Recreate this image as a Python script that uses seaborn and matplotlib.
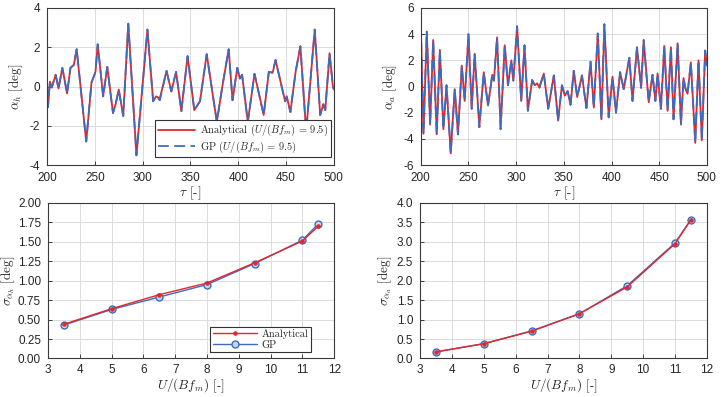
"""
plot.py - response time histories and standard deviations vs reduced velocity
"""

import numpy as np
import pandas as pd
import matplotlib
matplotlib.use('Agg')
import matplotlib.pyplot as plt
import seaborn as sns

# ---- data ----
# heave response alpha_h, U/(B f_m) = 9.5 (peaks and troughs)
tau_h = [200, 201, 203, 205, 209, 212, 216, 221, 224.5, 228, 231, 241, 246.5, 250.7,
         253, 258.7, 263, 269, 272, 275, 279.7, 285, 293.5, 305, 311, 314, 318, 325,
         330, 335, 340.5, 347, 354, 360, 367, 377.6, 383, 390, 394, 399, 401.7, 404,
         410, 417, 426.6, 432, 436, 439, 449, 450.7, 454.5, 460, 465, 471, 480, 485.7,
         489, 491, 495.5, 499, 500]
alpha_h = [0.0, -1.05, 0.25, -0.05, 0.6, -0.1, 0.95, -0.35, 0.95, 1.1, 1.9, -2.8, 0.2, 0.75,
           2.15, -0.5, 1.0, -1.35, -0.85, -0.15, -1.5, 3.2, -3.5, 2.9, -0.75, -0.5, -0.6, 0.8,
           -0.25, 0.75, -1.25, 1.55, -1.2, -0.75, 1.65, -1.8, -0.1, 1.9, -0.7, 0.95, 0.4, 0.6,
           -1.8, 0.65, -1.45, 0.75, 0.7, 1.35, -0.75, -0.5, -1.3, 0.75, 2.05, -2.3, 2.9, -1.45,
           -0.9, -1.2, 1.7, 0.0, -0.15]
gp_alpha_h = [0.0, -1.05, 0.25, -0.05, 0.6, -0.1, 0.95, -0.35, 0.95, 1.1, 1.9, -2.8, 0.2, 0.75,
              2.15, -0.5, 1.0, -1.35, -0.85, -0.15, -1.5, 3.2, -3.5, 2.9, -0.75, -0.5, -0.7, 0.8,
              -0.25, 0.75, -1.25, 1.55, -1.2, -0.75, 1.65, -1.8, -0.1, 1.9, -0.7, 0.95, 0.4, 0.6,
              -1.8, 0.65, -1.45, 0.75, 0.7, 1.35, -0.75, -0.5, -1.3, 0.75, 2.05, -2.3, 2.9, -1.45,
              -0.9, -1.2, 1.7, 0.0, -0.15]

# pitch response alpha_a, U/(B f_m) = 9.5
tau_a = [200, 202.8, 206.3, 209.8, 213, 216.7, 220, 223.7, 227, 231.4, 235.6, 239, 243, 246,
         250, 253.4, 256.5, 261.4, 266, 270.5, 275, 276.7, 280, 283.7, 288, 291.4, 295, 297,
         301, 305.3, 308.8, 312.3, 316.8, 319.6, 322, 324.5, 329, 333.6, 339.5, 344, 348, 351,
         354, 357, 360.4, 364, 369, 373.7, 378, 381.4, 385.6, 389.4, 392.5, 397, 401, 404.7,
         409, 412.8, 418.7, 422, 426.7, 431, 433.7, 439, 443, 446, 448.3, 451.8, 455.3, 458.8,
         462.3, 465, 469.3, 472.8, 475.5, 477.3, 479.7, 483.2, 487.8, 491.2, 494.7, 498.2, 500]
alpha_a = [4.7, -3.6, 4.2, -2.9, 3.55, -3.65, 2.8, -3.25, 0.1, -5.1, -0.2, -3.65, 1.6, -1.1,
           4.0, -1.7, 2.5, -3.1, 1.1, -1.45, 0.9, 0.45, 3.75, -3.25, 3.15, 0.1, 2.0, 0.45,
           4.6, -1.1, 3.15, -1.85, 0.5, 0.1, 0.25, -0.1, 1.0, -1.7, 0.85, -2.6, 0.1, -0.7,
           -0.35, -1.4, 1.2, -0.8, 0.85, -1.65, 1.9, -1.6, 4.05, -2.5, 4.75, -2.35, 0.75, -2.0,
           1.1, -0.2, 2.2, -1.1, 3.0, -0.1, 3.55, -1.2, 0.9, -1.1, 1.0, -1.7, 3.1, -1.85,
           3.0, -2.5, 3.3, -2.9, 0.65, -0.1, -0.55, 1.85, -4.3, 2.0, -4.1, 2.75, 1.6]
gp_alpha_a = [4.7, -3.6, 4.2, -2.9, 3.55, -3.65, 2.8, -3.25, 0.1, -5.1, -0.2, -3.65, 1.6, -1.1,
              4.0, -1.7, 2.5, -3.1, 1.1, -1.45, 0.9, 0.45, 3.75, -3.25, 3.15, 0.1, 2.0, 0.45,
              4.6, -1.1, 3.15, -1.85, 0.5, 0.05, 0.0, 0.0, 1.0, -1.7, 0.85, -2.6, 0.1, -0.7,
              -0.35, -1.4, 1.2, -0.8, 0.85, -1.65, 1.9, -1.6, 4.05, -2.5, 4.75, -2.35, 0.75, -2.0,
              1.1, -0.2, 2.2, -1.1, 3.0, -0.1, 3.55, -1.2, 0.9, -1.1, 1.0, -1.7, 3.1, -1.85,
              3.0, -2.5, 3.3, -2.9, 0.65, -0.1, -0.55, 1.85, -4.3, 2.0, -4.1, 2.75, 1.6]

# standard deviations vs reduced velocity
u_red = [3.5, 5, 6.5, 8, 9.5, 11, 11.5]
sigma_h_an = [0.44, 0.64, 0.82, 0.97, 1.23, 1.51, 1.70]
sigma_h_gp = [0.43, 0.63, 0.79, 0.95, 1.22, 1.52, 1.73]
sigma_a_an = [0.17, 0.38, 0.70, 1.15, 1.84, 2.95, 3.57]
sigma_a_gp = [0.17, 0.38, 0.71, 1.15, 1.87, 2.97, 3.57]

RED = '#e4262c'
BLUE = '#3b6cc0'
SERIF = 'cmr10'
LABEL_SIZE = 9.5

sns.set_theme(style='whitegrid')
plt.rcParams['font.family'] = ['Liberation Sans', 'DejaVu Sans']
plt.rcParams['mathtext.fontset'] = 'cm'
plt.rcParams['axes.formatter.use_mathtext'] = False

fig = plt.figure(figsize=(7.28, 3.97), dpi=100)
ax_h = fig.add_axes([0.0646, 0.584, 0.394, 0.396])
ax_a = fig.add_axes([0.578, 0.584, 0.393, 0.396])
ax_sh = fig.add_axes([0.066, 0.097, 0.393, 0.392])
ax_sa = fig.add_axes([0.577, 0.097, 0.394, 0.392])


def style_axes(ax, xpad=5):
    ax.set_facecolor('white')
    for sp in ax.spines.values():
        sp.set_color('#3a3a3a')
        sp.set_linewidth(0.8)
        sp.set_visible(True)
    ax.grid(True, color='#dcdcdc', linewidth=0.7)
    ax.tick_params(direction='in', length=3, width=0.6, colors='#262626',
                   labelsize=8.5, top=False, right=False, bottom=True, left=True)
    ax.tick_params(axis='x', pad=xpad)
    ax.tick_params(axis='y', pad=5)


def legend_box(ax, handles, labels, anchor, hlen):
    leg = ax.legend(handles, labels, loc='lower right', bbox_to_anchor=anchor,
                    fancybox=False, framealpha=1, edgecolor='#333333',
                    prop={'family': SERIF, 'size': 7.5}, handlelength=hlen,
                    handletextpad=0.5, borderpad=0.25, labelspacing=0.1,
                    borderaxespad=0)
    leg.get_frame().set_linewidth(0.8)
    return leg


# top-left: heave time history
sns.lineplot(x=tau_h, y=alpha_h, ax=ax_h, color=RED, linewidth=1.3, sort=False,
             label=r'Analytical ($U/(Bf_m)$ = 9.5)')
sns.lineplot(x=tau_h, y=gp_alpha_h, ax=ax_h, color=BLUE, linewidth=1.3, sort=False,
             linestyle='--', label=r'GP ($U/(Bf_m)$ = 9.5)')
ax_h.lines[1].set_dashes((6, 3))
ax_h.set_xlim(200, 500)
ax_h.set_ylim(-4, 4)
ax_h.set_yticks([-4, -2, 0, 2, 4])
ax_h.set_yticklabels(['-4', '-2', '0', '2', '4'])
ax_h.set_ylabel(r'$\alpha_h$ [deg]', family=SERIF, fontsize=LABEL_SIZE, labelpad=3)
ax_h.set_xlabel(r'$\tau$ [-]', family=SERIF, fontsize=LABEL_SIZE, labelpad=0)
h, l = ax_h.get_legend_handles_labels()
legend_box(ax_h, h, l, (0.99, 0.05), 3.6)
style_axes(ax_h)

# top-right: pitch time history
sns.lineplot(x=tau_a, y=alpha_a, ax=ax_a, color=RED, linewidth=1.3, sort=False)
sns.lineplot(x=tau_a, y=gp_alpha_a, ax=ax_a, color=BLUE, linewidth=1.3, sort=False,
             linestyle='--')
ax_a.lines[1].set_dashes((6, 3))
ax_a.set_xlim(200, 500)
ax_a.set_ylim(-6, 6)
ax_a.set_yticks([-6, -4, -2, 0, 2, 4, 6])
ax_a.set_yticklabels(['-6', '-4', '-2', '0', '2', '4', '6'])
ax_a.set_ylabel(r'$\alpha_a$ [deg]', family=SERIF, fontsize=LABEL_SIZE, labelpad=3)
ax_a.set_xlabel(r'$\tau$ [-]', family=SERIF, fontsize=LABEL_SIZE, labelpad=0)
style_axes(ax_a)

# bottom-left: sigma heave
sns.lineplot(x=u_red, y=sigma_h_gp, ax=ax_sh, color=BLUE, linewidth=1.0, marker='o',
             markersize=5, markerfacecolor='#c9d6ee', markeredgecolor=BLUE,
             markeredgewidth=1.0, label='GP', zorder=2)
sns.lineplot(x=u_red, y=sigma_h_an, ax=ax_sh, color=RED, linewidth=1.0, marker='o',
             markersize=2.5, markeredgecolor=RED, label='Analytical', zorder=3)
ax_sh.set_xlim(3, 12)
ax_sh.set_ylim(0, 2)
ax_sh.set_xticks(range(3, 13))
ax_sh.set_yticks(np.arange(0, 2.01, 0.25))
ax_sh.set_yticklabels([f'{v:.2f}' for v in np.arange(0, 2.01, 0.25)])
ax_sh.set_ylabel(r'$\sigma_{\alpha_h}$ [deg]', family=SERIF, fontsize=LABEL_SIZE, labelpad=1)
ax_sh.set_xlabel(r'$U/(Bf_m)$ [-]', family=SERIF, fontsize=LABEL_SIZE, labelpad=0)
h, l = ax_sh.get_legend_handles_labels()
legend_box(ax_sh, h[::-1], l[::-1], (0.92, 0.04), 4.2)
style_axes(ax_sh, xpad=4)

# bottom-right: sigma pitch
sns.lineplot(x=u_red, y=sigma_a_gp, ax=ax_sa, color=BLUE, linewidth=1.0, marker='o',
             markersize=5, markerfacecolor='#c9d6ee', markeredgecolor=BLUE,
             markeredgewidth=1.0, zorder=2)
sns.lineplot(x=u_red, y=sigma_a_an, ax=ax_sa, color=RED, linewidth=1.0, marker='o',
             markersize=2.5, markeredgecolor=RED, zorder=3)
ax_sa.set_xlim(3, 12)
ax_sa.set_ylim(0, 4)
ax_sa.set_xticks(range(3, 13))
ax_sa.set_yticks(np.arange(0, 4.01, 0.5))
ax_sa.set_yticklabels([f'{v:.1f}' for v in np.arange(0, 4.01, 0.5)])
ax_sa.set_ylabel(r'$\sigma_{\alpha_a}$ [deg]', family=SERIF, fontsize=LABEL_SIZE, labelpad=2)
ax_sa.set_xlabel(r'$U/(Bf_m)$ [-]', family=SERIF, fontsize=LABEL_SIZE, labelpad=0)
style_axes(ax_sa, xpad=4)

fig.savefig('out.png', dpi=100, facecolor='white')
plt.close(fig)
